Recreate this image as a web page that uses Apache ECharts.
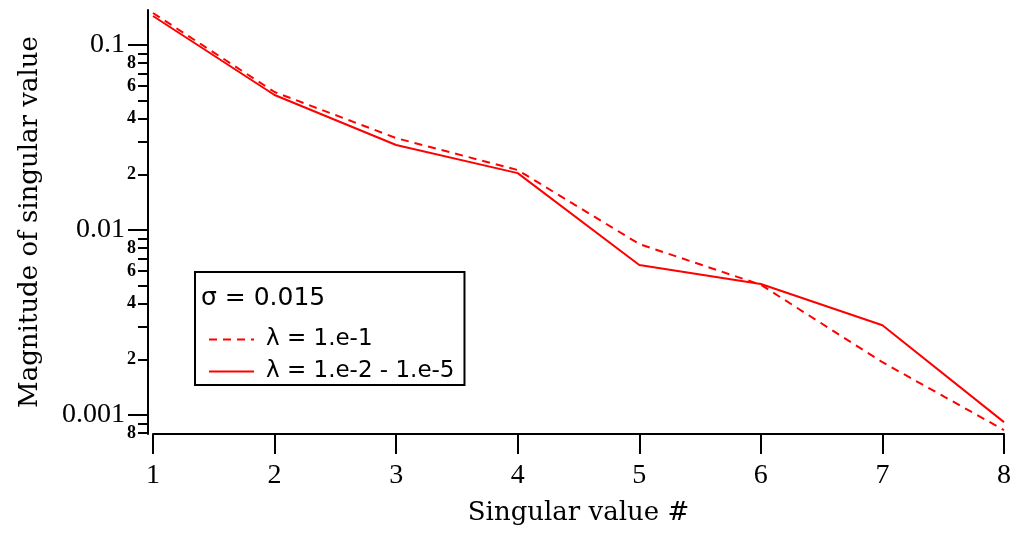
<!DOCTYPE html>
<html>
<head>
<meta charset="utf-8">
<script src="https://cdn.jsdelivr.net/npm/echarts@6/dist/echarts.min.js"></script>
<style>html,body{margin:0;padding:0;background:#fff;}#chart{width:1014px;height:537px;}</style>
</head>
<body>
<div id="chart"></div>
<script>
// ---- data ----
const singularIndex = [1, 2, 3, 4, 5, 6, 7, 8];
const lambdaHigh = [0.149, 0.0557, 0.0314, 0.0211, 0.0084, 0.00506, 0.00193, 0.00083];   // λ = 1.e-1
const lambdaLow  = [0.1435, 0.0537, 0.0288, 0.0203, 0.00647, 0.00511, 0.00306, 0.000916]; // λ = 1.e-2 - 1.e-5
const seriesNames = ['λ = 1.e-1', 'λ = 1.e-2 - 1.e-5'];
const legendTitle = 'σ = 0.015';
const majorTickValues = [0.001, 0.01, 0.1];
const majorTickLabels = ['0.001', '0.01', '0.1'];
const minorTickValues = [0.0008, 0.0009,
  0.002, 0.003, 0.004, 0.005, 0.006, 0.007, 0.008, 0.009,
  0.02, 0.03, 0.04, 0.05, 0.06, 0.07, 0.08, 0.09];
const minorLabelValues = [0.0008, 0.002, 0.004, 0.006, 0.008, 0.02, 0.04, 0.06, 0.08];
const minorLabelTexts  = ['8', '2', '4', '6', '8', '2', '4', '6', '8'];
const yMin = 0.00079, yMax = 0.1546;

function lookup(vals, texts, v) {
  for (let i = 0; i < vals.length; i++) {
    if (Math.abs(vals[i] - v) / vals[i] < 1e-6) return texts[i];
  }
  return '';
}

const chart = echarts.init(document.getElementById('chart'));
const serif = 'Liberation Serif';
const titleFont = 'DejaVu Serif';
chart.setOption({
  backgroundColor: '#fff',
  animation: false,
  grid: { left: 153, right: 7, top: 10, bottom: 103, containLabel: false },
  title: {
    text: legendTitle, left: 201, top: 286, padding: 0,
    textStyle: { fontFamily: 'DejaVu Sans', fontSize: 25, fontWeight: 'normal', color: '#000' }
  },
  legend: {
    orient: 'vertical', left: 195, top: 272,
    padding: [55, 10, 1, 13],
    borderColor: '#000', borderWidth: 2,
    itemWidth: 45, itemHeight: 14, itemGap: 7,
    selectedMode: false,
    data: seriesNames,
    itemStyle: { opacity: 0 },
    textStyle: { fontFamily: 'DejaVu Sans', fontSize: 23, color: '#000', lineHeight: 25, padding: [0, 0, 0, 7] }
  },
  xAxis: {
    type: 'value', min: 1, max: 8, interval: 1,
    name: 'Singular value #', nameLocation: 'middle', nameGap: 66,
    nameTextStyle: { fontFamily: titleFont, fontSize: 26, color: '#000' },
    axisLine: { lineStyle: { color: '#000', width: 2 } },
    axisTick: { length: 20, lineStyle: { color: '#000', width: 2 } },
    axisLabel: { margin: 28, fontFamily: serif, fontSize: 28, color: '#000' },
    splitLine: { show: false }
  },
  yAxis: [{
    type: 'log', logBase: 10, min: yMin, max: yMax, position: 'left', offset: 5,
    name: 'Magnitude of singular value', nameLocation: 'middle', nameGap: 105,
    nameTextStyle: { fontFamily: titleFont, fontSize: 26, color: '#000' },
    axisLine: { lineStyle: { color: '#000', width: 2 } },
    axisTick: { customValues: majorTickValues, length: 20, lineStyle: { color: '#000', width: 2 } },
    axisLabel: { customValues: majorTickValues, margin: 23, fontFamily: serif, fontSize: 28, color: '#000',
      formatter: v => lookup(majorTickValues, majorTickLabels, v) },
    splitLine: { show: false }, minorTick: { show: false }
  }, {
    type: 'log', logBase: 10, min: yMin, max: yMax, position: 'left', offset: 5,
    axisLine: { show: false },
    axisTick: { customValues: minorTickValues, length: 10, lineStyle: { color: '#000', width: 2 } },
    axisLabel: { customValues: minorLabelValues, margin: 12, fontFamily: serif, fontSize: 18, fontWeight: 'bold', color: '#000',
      formatter: v => lookup(minorLabelValues, minorLabelTexts, v) },
    splitLine: { show: false }
  }],
  series: [{
    name: seriesNames[0], type: 'line', yAxisIndex: 0, symbol: 'none',
    data: singularIndex.map((x, i) => [x, lambdaHigh[i]]),
    lineStyle: { color: '#ff0000', width: 2, type: [8, 6] }, itemStyle: { color: '#ff0000' }
  }, {
    name: seriesNames[1], type: 'line', yAxisIndex: 0, symbol: 'none',
    data: singularIndex.map((x, i) => [x, lambdaLow[i]]),
    lineStyle: { color: '#ff0000', width: 2 }, itemStyle: { color: '#ff0000' }
  }]
});
</script>
</body>
</html>
